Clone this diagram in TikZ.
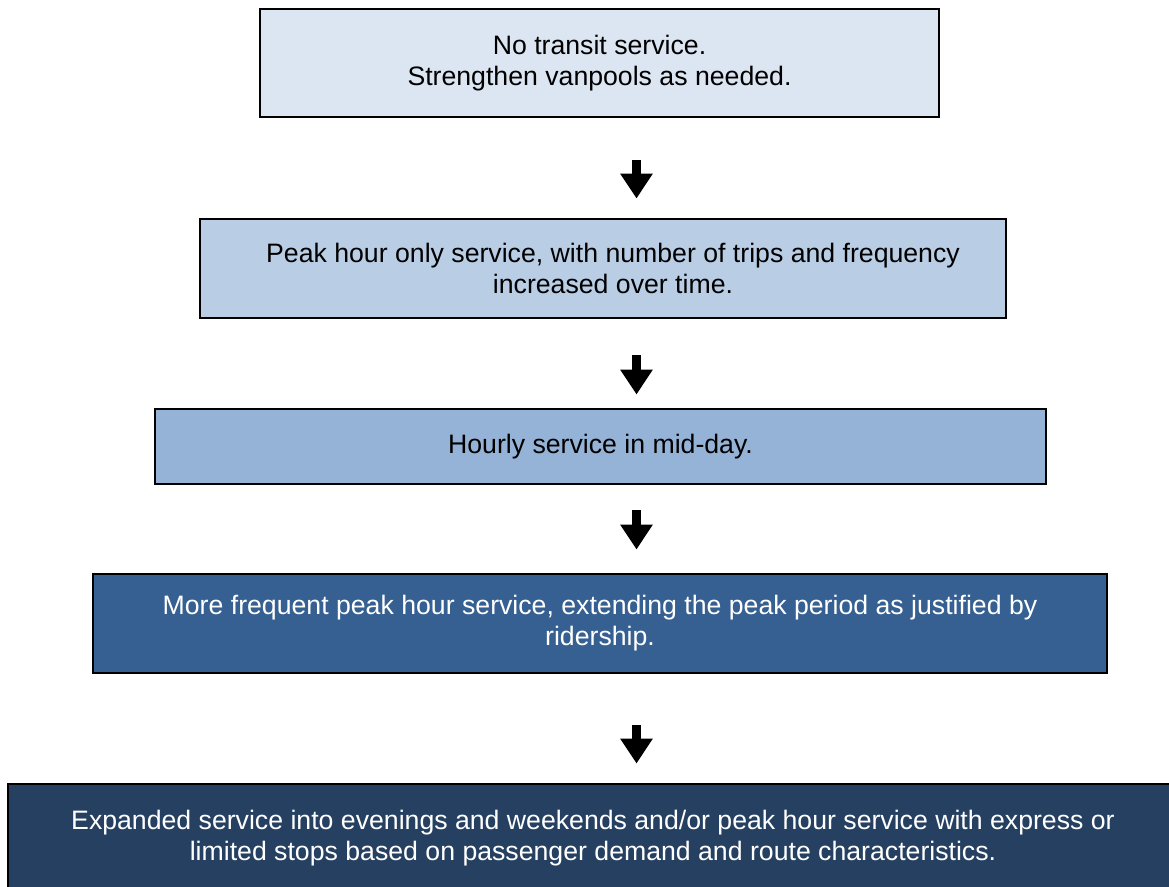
\documentclass[tikz,border=0pt]{standalone}
\usepackage{xcolor}
\usepackage{fontspec}
\setmainfont{Liberation Sans}
\usepackage{tikz}
\usetikzlibrary{arrows.meta,positioning,calc}
\definecolor{StageOne}{HTML}{DCE6F2}
\definecolor{StageTwo}{HTML}{B9CDE5}
\definecolor{StageThree}{HTML}{95B3D7}
\definecolor{StageFour}{HTML}{366092}
\definecolor{StageFive}{HTML}{254061}

\begin{document}
\begin{tikzpicture}[x=0.75pt, y=-0.75pt, font=\fontsize{20}{23.25}\selectfont]
  \tikzstyle{stage} = [rectangle, draw=black, line width=2.2pt, align=center, inner sep=0pt]
  \tikzstyle{nextstage} = [draw=black, line width=6.75pt, -{Triangle[length=18.75pt, width=23.25pt]}]

  \useasboundingbox (0,0) rectangle (1169,886);
  \clip (0,0) rectangle (1169,886);

  % the five service levels, top to bottom
  \node [stage, fill=StageOne, minimum width=509.25pt, minimum height=81pt] (none) at (599.5,63)
    {No transit service.\\Strengthen vanpools as needed.};
  \node [stage, fill=StageTwo, minimum width=604.5pt, minimum height=74.25pt] (peak) at (603,268.5)
    {\hspace*{15pt}Peak hour only service, with number of trips and frequency\\\hspace*{15pt}increased over time.};
  \node [stage, fill=StageThree, minimum width=668.25pt, minimum height=56.25pt] (hourly) at (600.5,446.5)
    {Hourly service in mid-day.};
  \node [stage, fill=StageFour, text=white, minimum width=760.5pt, minimum height=74.25pt] (frequent) at (600,623.5)
    {More frequent peak hour service, extending the peak period as justified by\\ridership.};
  \node [stage, fill=StageFive, text=white, minimum width=877.5pt, minimum height=81pt] (expanded) at (593,838)
    {Expanded service into evenings and weekends and/or peak hour service with express or\\limited stops based on passenger demand and route characteristics.};

  % arrows run down one common axis
  \coordinate (axis) at (636.5,0);
  \draw [nextstage, shorten <=31.5pt, shorten >=14.25pt] (none.south -| axis) -- (peak.north -| axis);
  \draw [nextstage, shorten <=27pt, shorten >=9.75pt] (peak.south -| axis) -- (hourly.north -| axis);
  \draw [nextstage, shorten <=18.75pt, shorten >=17.25pt] (hourly.south -| axis) -- (frequent.north -| axis);
  \draw [nextstage, shorten <=38.25pt, shorten >=14.25pt] (frequent.south -| axis) -- (expanded.north -| axis);
\end{tikzpicture}
\end{document}
